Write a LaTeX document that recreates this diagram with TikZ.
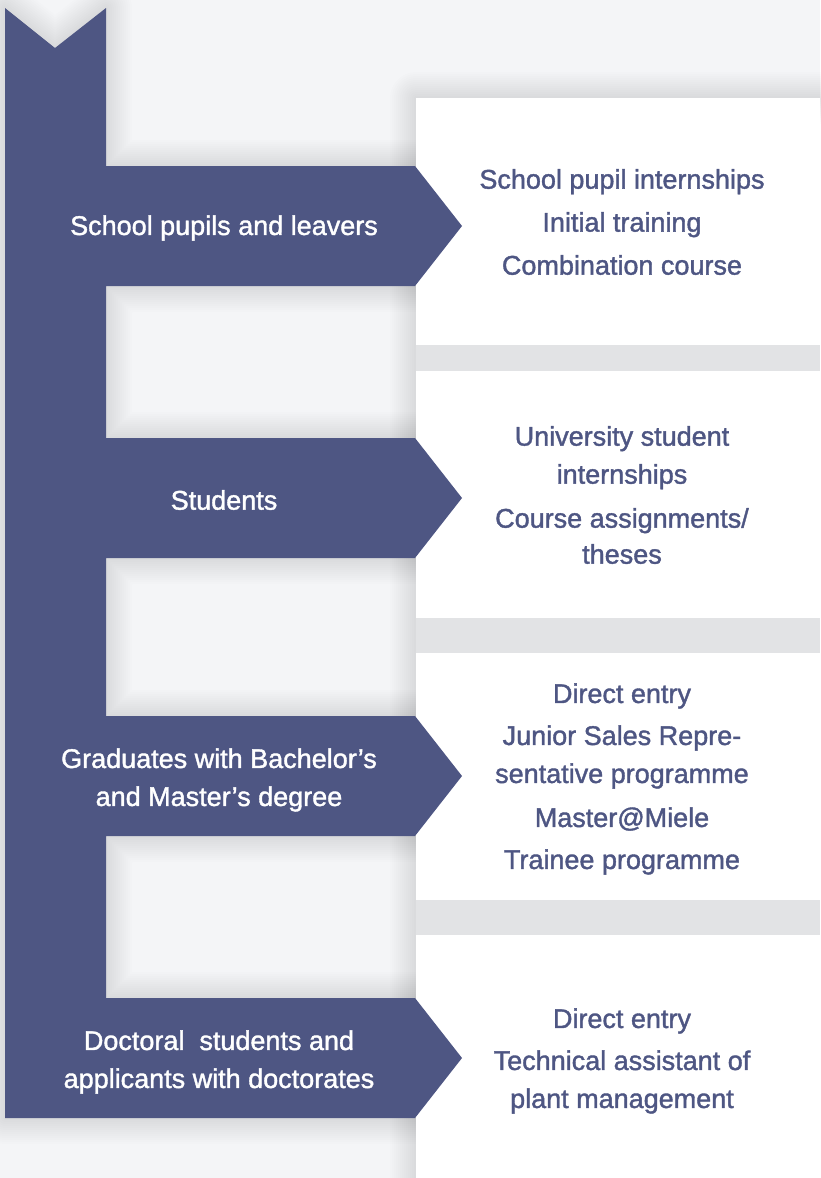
\documentclass[tikz,border=0pt]{standalone}
\usepackage{fontspec}
\setmainfont{Liberation Sans}
\newfontfamily\labelfont{Liberation Sans}[FakeBold=1.4]
\definecolor{navy}{HTML}{4E5683}
\definecolor{pagebg}{HTML}{F4F5F7}
\definecolor{gapgray}{HTML}{E2E3E5}

% outline of the bar with its four arrows
\newcommand\barshape{(5,8) -- (55,48) -- (106,8)
  foreach \c in {226,498,776,1058} {
    -- (106,{\c-60}) -- (415,{\c-60}) -- (462,\c) -- (415,{\c+60}) -- (106,{\c+60})
  } -- (5,1118) -- cycle}

\begin{document}
\begin{tikzpicture}[x=1pt, y=-1pt,
  every node/.style={font=\labelfont\fontsize{27}{38}\selectfont, align=center, inner sep=0pt},
  group/.style={text=white},
  offer/.style={text=navy},
  halo/.style={draw=black, opacity=0.006, line join=round, line width=#1},
]
\useasboundingbox (0,0) rectangle (820,1178);
\fill[pagebg] (0,0) rectangle (820,1178);

% soft shadows round the bar and the boxes
\foreach \w in {4,8,...,52} {
  \path[halo=\w pt] \barshape;
  \path[halo=\w pt] (416,98) rectangle (900,1250);
}

% gaps between the offer boxes
\fill[gapgray] (416,345) rectangle (820,371);
\fill[gapgray] (416,618) rectangle (820,653);
\fill[gapgray] (416,900) rectangle (820,935);

% offer boxes
\fill[white] (416,98)  rectangle (820,345);
\fill[white] (416,371) rectangle (820,618);
\fill[white] (416,653) rectangle (820,900);
\fill[white] (416,935) rectangle (820,1178);

% the bar
\fill[navy] \barshape;

% target groups
\node[group] (pupils)     at (224,228) {School pupils and leavers};
\node[group] (students)   at (224,500) {Students};
\node[group] (graduates)  at (219,780) {Graduates with Bachelor’s\\and Master’s degree};
\node[group] (doctorates) at (219,1062) {Doctoral~ students and\\applicants with doctorates};

% entry options
\node[offer] (schoolopts)  at (622,222) {School pupil internships\\[5pt]Initial training\\[5pt]Combination course};
\node[offer] (studentopts) at (622,495) {University student\\internships\\[6pt]Course assignments/\\[-2pt]theses};
\node[offer] (gradopts)    at (622,779) {Direct entry\\[4pt]Junior Sales Repre-\\sentative programme\\[6pt]Master@Miele\\[4pt]Trainee programme};
\node[offer] (docopts)     at (622,1061) {Direct entry\\[4pt]Technical assistant of\\plant management};
\end{tikzpicture}
\end{document}
